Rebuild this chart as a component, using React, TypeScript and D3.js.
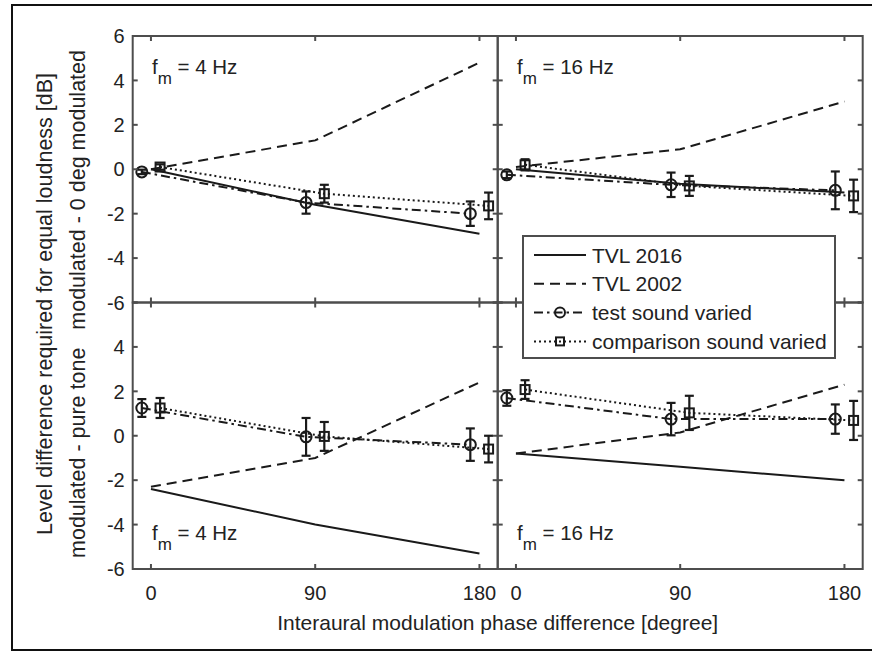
import React, { useRef, useEffect } from 'react';
import * as d3 from 'd3';

const phases = [0, 90, 180];
const xTicks = [0, 90, 180];
const yTickValues = [6, 4, 2, 0, -2, -4, -6];
const yLabelsTop = [6, 4, 2, 0, -2, -4, -6];
const yLabelsBottom = [4, 2, 0, -2, -4, -6];
const fmLabels = ['4 Hz', '16 Hz', '4 Hz', '16 Hz'];
const legendLabels = ['TVL 2016', 'TVL 2002', 'test sound varied', 'comparison sound varied'];

// top row: modulated - 0 deg modulated
const tvl2016Top4 = [0, -1.6, -2.9];
const tvl2002Top4 = [0, 1.3, 4.8];
const testTop4 = [-0.12, -1.5, -2.0];
const testErrTop4 = [0.1, 0.5, 0.55];
const compTop4 = [0.1, -1.1, -1.65];
const compErrTop4 = [0.12, 0.4, 0.6];

const tvl2016Top16 = [0, -0.65, -1.05];
const tvl2002Top16 = [0.1, 0.9, 3.05];
const testTop16 = [-0.25, -0.7, -0.95];
const testErrTop16 = [0.15, 0.55, 0.85];
const compTop16 = [0.2, -0.75, -1.2];
const compErrTop16 = [0.25, 0.45, 0.73];

// bottom row: modulated - pure tone
const tvl2016Bot4 = [-2.4, -4.0, -5.3];
const tvl2002Bot4 = [-2.3, -1.0, 2.4];
const testBot4 = [1.25, -0.05, -0.4];
const testErrBot4 = [0.4, 0.85, 0.73];
const compBot4 = [1.25, -0.03, -0.6];
const compErrBot4 = [0.45, 0.65, 0.6];

const tvl2016Bot16 = [-0.8, -1.4, -2.0];
const tvl2002Bot16 = [-0.8, 0.15, 2.3];
const testBot16 = [1.7, 0.75, 0.75];
const testErrBot16 = [0.35, 0.73, 0.66];
const compBot16 = [2.08, 1.03, 0.69];
const compErrBot16 = [0.42, 0.77, 0.88];

const panels = [
  { row: 0, col: 0, tvl2016: tvl2016Top4, tvl2002: tvl2002Top4, test: testTop4, testErr: testErrTop4, comp: compTop4, compErr: compErrTop4 },
  { row: 0, col: 1, tvl2016: tvl2016Top16, tvl2002: tvl2002Top16, test: testTop16, testErr: testErrTop16, comp: compTop16, compErr: compErrTop16 },
  { row: 1, col: 0, tvl2016: tvl2016Bot4, tvl2002: tvl2002Bot4, test: testBot4, testErr: testErrBot4, comp: compBot4, compErr: compErrBot4 },
  { row: 1, col: 1, tvl2016: tvl2016Bot16, tvl2002: tvl2002Bot16, test: testBot16, testErr: testErrBot16, comp: compBot16, compErr: compErrBot16 },
];

const W = 872;
const H = 656;
const left = 132.7;
const top = 36;
const pw = 365;
const ph = 266.5;
const offset = 5; // markers shifted sideways (degrees)
const font = '"Liberation Sans", Arial, Helvetica, sans-serif';
const axisColor = '#4d4d4d';
const ink = '#1a1a1a';
const textColor = '#222';

const dashTVL2002 = '10,6';
const dashTest = '9,4,2.5,4';
const dashComp = '2,3';

const App = () => {
  const svgRef = useRef(null);

  useEffect(() => {
    document.body.style.margin = '0';
    const svg = d3.select(svgRef.current);
    svg.selectAll('*').remove();

    // outer frame
    svg.append('rect')
      .attr('x', 12).attr('y', 5).attr('width', 870).attr('height', 645)
      .attr('fill', 'none').attr('stroke', '#111').attr('stroke-width', 2);

    const x = d3.scaleLinear().domain([-10, 190]).range([0, pw]);
    const y = d3.scaleLinear().domain([-6, 6]).range([ph, 0]);

    panels.forEach((p, i) => {
      const g = svg.append('g')
        .attr('transform', `translate(${left + p.col * pw},${top + p.row * ph})`);

      const line = d3.line<number>()
        .x((d, j) => x(phases[j]))
        .y(d => y(d));
      const shifted = (dx: number) => d3.line<number>()
        .x((d, j) => x(phases[j] + dx))
        .y(d => y(d));

      // data lines
      g.append('path').attr('d', line(p.tvl2016))
        .attr('fill', 'none').attr('stroke', ink).attr('stroke-width', 2);
      g.append('path').attr('d', line(p.tvl2002))
        .attr('fill', 'none').attr('stroke', ink).attr('stroke-width', 2)
        .attr('stroke-dasharray', dashTVL2002);
      g.append('path').attr('d', shifted(-offset)(p.test))
        .attr('fill', 'none').attr('stroke', ink).attr('stroke-width', 2)
        .attr('stroke-dasharray', dashTest);
      g.append('path').attr('d', shifted(offset)(p.comp))
        .attr('fill', 'none').attr('stroke', ink).attr('stroke-width', 2)
        .attr('stroke-dasharray', dashComp);

      // error bars
      const errorBars = (vals: number[], errs: number[], dx: number) => {
        vals.forEach((v, j) => {
          const cx = x(phases[j] + dx);
          const y1 = y(v - errs[j]);
          const y2 = y(v + errs[j]);
          g.append('line').attr('x1', cx).attr('x2', cx).attr('y1', y1).attr('y2', y2)
            .attr('stroke', ink).attr('stroke-width', 2.2);
          [y1, y2].forEach(yy => {
            g.append('line').attr('x1', cx - 4.5).attr('x2', cx + 4.5).attr('y1', yy).attr('y2', yy)
              .attr('stroke', ink).attr('stroke-width', 2.2);
          });
        });
      };
      errorBars(p.test, p.testErr, -offset);
      errorBars(p.comp, p.compErr, offset);

      // markers
      g.selectAll('circle.test').data(p.test).join('circle')
        .attr('cx', (d, j) => x(phases[j] - offset))
        .attr('cy', d => y(d))
        .attr('r', 5.5)
        .attr('fill', 'none').attr('stroke', ink).attr('stroke-width', 2);
      g.selectAll('rect.comp').data(p.comp).join('rect')
        .attr('x', (d, j) => x(phases[j] + offset) - 4.5)
        .attr('y', d => y(d) - 4.5)
        .attr('width', 9).attr('height', 9)
        .attr('fill', 'none').attr('stroke', ink).attr('stroke-width', 2);

      // box
      g.append('rect').attr('width', pw).attr('height', ph)
        .attr('fill', 'none').attr('stroke', axisColor).attr('stroke-width', 2);

      // inward ticks on all sides
      xTicks.forEach(t => {
        g.append('line').attr('x1', x(t)).attr('x2', x(t)).attr('y1', 0).attr('y2', 5)
          .attr('stroke', axisColor).attr('stroke-width', 2);
        g.append('line').attr('x1', x(t)).attr('x2', x(t)).attr('y1', ph - 5).attr('y2', ph)
          .attr('stroke', axisColor).attr('stroke-width', 2);
      });
      yTickValues.forEach(t => {
        g.append('line').attr('x1', 0).attr('x2', 5).attr('y1', y(t)).attr('y2', y(t))
          .attr('stroke', axisColor).attr('stroke-width', 2);
        g.append('line').attr('x1', pw - 5).attr('x2', pw).attr('y1', y(t)).attr('y2', y(t))
          .attr('stroke', axisColor).attr('stroke-width', 2);
      });

      // y tick labels on the left column
      if (p.col === 0) {
        const labels = p.row === 0 ? yLabelsTop : yLabelsBottom;
        labels.forEach(t => {
          g.append('text').attr('x', -8).attr('y', y(t)).attr('dy', '0.36em')
            .attr('text-anchor', 'end')
            .attr('font-family', font).attr('font-size', 20).attr('fill', textColor)
            .text(t);
        });
      }
      // x tick labels on the bottom row
      if (p.row === 1) {
        xTicks.forEach(t => {
          g.append('text').attr('x', x(t)).attr('y', ph + 31)
            .attr('text-anchor', 'middle')
            .attr('font-family', font).attr('font-size', 20).attr('fill', textColor)
            .text(t);
        });
      }

      // f_m label
      const ly = p.row === 0 ? 38 : 237.5;
      const label = g.append('text').attr('x', x(0) + 1).attr('y', ly)
        .attr('font-family', font).attr('font-size', 20.5).attr('fill', textColor);
      label.append('tspan').text('f');
      label.append('tspan').attr('dy', 10).attr('font-size', 17).text('m');
      label.append('tspan').attr('dy', -10).text(` = ${fmLabels[i]}`);
    });

    // axis titles
    svg.append('text')
      .attr('x', left + pw).attr('y', 630)
      .attr('text-anchor', 'middle')
      .attr('font-family', font).attr('font-size', 21).attr('fill', textColor)
      .text('Interaural modulation phase difference [degree]');

    const yTitle = (txt: string, cx: number, cy: number) => {
      svg.append('text')
        .attr('transform', `translate(${cx},${cy}) rotate(-90)`)
        .attr('text-anchor', 'middle').attr('dy', '0.35em')
        .attr('font-family', font).attr('font-size', 21.5).attr('fill', textColor)
        .style('white-space', 'pre')
        .text(txt);
    };
    yTitle('Level difference required for equal loudness [dB]', 44, 304);
    yTitle('modulated - pure tone   modulated - 0 deg modulated', 77, 304);

    // legend
    const lg = svg.append('g').attr('transform', 'translate(523,236)');
    lg.append('rect').attr('width', 312).attr('height', 122)
      .attr('fill', 'white').attr('stroke', axisColor).attr('stroke-width', 2);
    const dashes = [null, dashTVL2002, dashTest, dashComp];
    legendLabels.forEach((lab, k) => {
      const ly = 19 + k * 28.8;
      const ln = lg.append('line').attr('x1', 11).attr('x2', 63).attr('y1', ly).attr('y2', ly)
        .attr('stroke', ink).attr('stroke-width', 2);
      if (dashes[k]) ln.attr('stroke-dasharray', dashes[k]);
      if (k === 2) {
        lg.append('circle').attr('cx', 37).attr('cy', ly).attr('r', 5)
          .attr('fill', 'none').attr('stroke', ink).attr('stroke-width', 2);
      }
      if (k === 3) {
        lg.append('rect').attr('x', 33).attr('y', ly - 4).attr('width', 8).attr('height', 8)
          .attr('fill', 'none').attr('stroke', ink).attr('stroke-width', 2);
      }
      lg.append('text').attr('x', 69).attr('y', ly).attr('dy', '0.36em')
        .attr('font-family', font).attr('font-size', 21).attr('fill', textColor)
        .text(lab);
    });
  }, []);

  return (
    <svg ref={svgRef} width={W} height={H}
      style={{ position: 'absolute', left: 0, top: 0, background: 'white' }} />
  );
};

export default App;
